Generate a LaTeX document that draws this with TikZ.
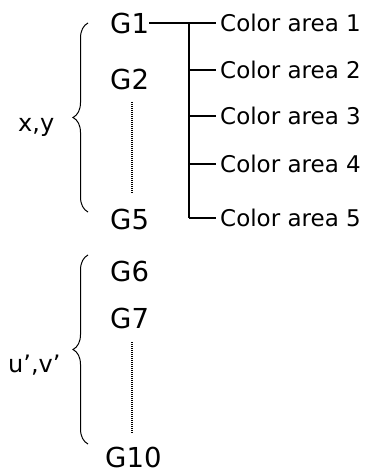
\documentclass[tikz,border=0pt]{standalone}
\usepackage{fontspec}
\setmainfont{DejaVu Sans}
\usepackage{tikz}
\usetikzlibrary{positioning, decorations.pathreplacing}

\begin{document}
\begin{tikzpicture}[
    x=1pt, y=-1pt,
    glabel/.style={anchor=west, inner sep=0pt, font=\fontsize{27.5}{32}\selectfont},
    area/.style={anchor=west, inner xsep=4pt, inner ysep=0pt, font=\fontsize{23}{28}\selectfont},
    coordlabel/.style={anchor=base west, inner sep=0pt, font=\fontsize{24}{28}\selectfont},
    line/.style={line width=1.3pt},
    dots/.style={line width=1.7pt, dash pattern=on 1pt off 1pt},
    bracket/.style={line width=1pt, decorate, decoration={brace, amplitude=15pt}}
]
    \useasboundingbox (0,0) rectangle (369,473);

    % Coordinate labels
    \node[coordlabel] (xy) at (18,132) {x,y};
    \node[coordlabel] (uv) at (8,372) {u’,v’};

    % Braces
    \draw[bracket] (88,212) -- (88,23);
    \draw[bracket] (88,444) -- (88,255);

    % Groups
    \node[glabel] (g1) at (110,23) {G1};
    \node[glabel] (g2) at (110,79) {G2};
    \node[glabel] (g5) at (110,219) {G5};
    \node[glabel] (g6) at (110,271) {G6};
    \node[glabel] (g7) at (110,318) {G7};
    \node[glabel] (g10) at (105,457) {G10};

    % Dotted gaps
    \coordinate (dotatop) at (132,102);
    \coordinate (dotabot) at (132,193);
    \coordinate (dotbtop) at (132,342);
    \coordinate (dotbbot) at (132,433);
    \draw[dots] (dotatop) -- (dotabot);
    \draw[dots] (dotbtop) -- (dotbbot);

    % Color areas
    \node[area] (ca1) at (216,23) {Color area 1};
    \node[area] (ca2) at (216,70) {Color area 2};
    \node[area] (ca3) at (216,116) {Color area 3};
    \node[area] (ca4) at (216,164) {Color area 4};
    \node[area] (ca5) at (216,218) {Color area 5};

    % Tree
    \coordinate (trunk) at (189,23);
    \draw[line] (g1) -- (ca1);
    \draw[line] (trunk) -- (trunk |- ca5.west);
    \draw[line] (trunk |- ca2.west) -- (ca2.west);
    \draw[line] (trunk |- ca3.west) -- (ca3.west);
    \draw[line] (trunk |- ca4.west) -- (ca4.west);
    \draw[line] (trunk |- ca5.west) -- (ca5.west);
\end{tikzpicture}
\end{document}
